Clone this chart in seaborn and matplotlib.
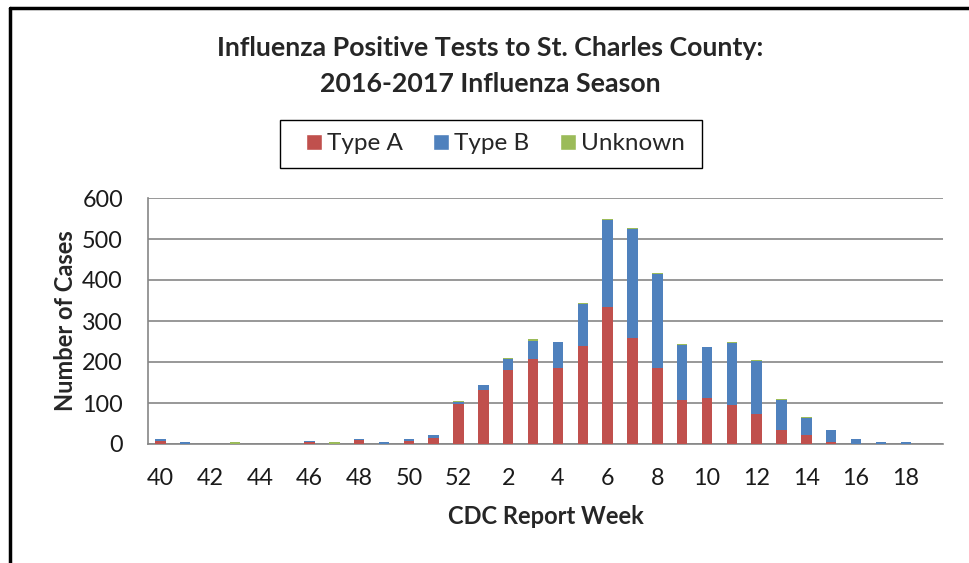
import matplotlib
matplotlib.use("Agg")
import matplotlib.pyplot as plt
import seaborn as sns
import pandas as pd
import numpy as np
from matplotlib.lines import Line2D
from matplotlib.patches import Patch, Rectangle

weeks = ["40", "41", "42", "43", "44", "45", "46", "47", "48", "49", "50", "51", "52",
         "1", "2", "3", "4", "5", "6", "7", "8", "9", "10", "11", "12", "13", "14",
         "15", "16", "17", "18", "19"]
type_a = [7, 0, 0, 0, 0, 0, 5, 0, 10, 0, 7, 15, 98,
          132, 180, 207, 185, 239, 333, 259, 185, 108, 111, 95, 73, 33, 23,
          4, 0, 0, 0, 0]
type_b = [4, 4, 0, 0, 0, 0, 3, 0, 3, 4, 4, 7, 5,
          13, 27, 45, 63, 103, 213, 266, 230, 134, 125, 151, 129, 75, 41,
          31, 13, 4, 4, 0]
unknown = [0, 0, 0, 4, 0, 0, 0, 4, 0, 0, 0, 0, 1,
           0, 3, 3, 2, 3, 3, 3, 3, 2, 0, 3, 3, 2, 2,
           0, 0, 0, 0, 0]
tick_labels = ["40", "42", "44", "46", "48", "50", "52", "2", "4", "6", "8", "10",
               "12", "14", "16", "18"]

RED = "#C0504D"
BLUE = "#4F81BD"
GREEN = "#9BBB59"
GRID = "#868686"

df = pd.DataFrame({"week": weeks, "A": type_a, "B": type_b, "U": unknown})
df["AB"] = df["A"] + df["B"]
df["ABU"] = df["AB"] + df["U"]

sns.set_style("white")
plt.rcParams["font.family"] = ["Lato", "DejaVu Sans"]

W, H = 969, 563
fig = plt.figure(figsize=(W / 100, H / 100), dpi=100)
ax = fig.add_axes([148 / W, 1 - 444 / H, 795 / W, 246 / H])

bw = 0.42
sns.barplot(data=df, x="week", y="ABU", order=weeks, color=GREEN, width=bw,
            saturation=1, linewidth=0, ax=ax, zorder=3)
sns.barplot(data=df, x="week", y="AB", order=weeks, color=BLUE, width=bw,
            saturation=1, linewidth=0, ax=ax, zorder=3)
sns.barplot(data=df, x="week", y="A", order=weeks, color=RED, width=bw,
            saturation=1, linewidth=0, ax=ax, zorder=3)

ax.set_xlim(-0.5, len(weeks) - 0.5)
ax.set_ylim(0, 600)
ax.set_yticks(np.arange(0, 601, 100))
ax.yaxis.grid(True, color=GRID, linewidth=1.2, zorder=0)
ax.set_axisbelow(True)

label_pos = [weeks.index(t) for t in tick_labels]
ax.set_xticks(label_pos)
ax.set_xticklabels(tick_labels)
ax.set_xticks(np.arange(-0.5, len(weeks), 1.0), minor=True)
ax.tick_params(axis="x", which="major", length=0, pad=17, labelsize=16.8, colors="#1a1a1a")
ax.tick_params(axis="x", which="minor", length=7, width=1.2, color=GRID, direction="out")
ax.tick_params(axis="y", which="major", length=7, width=1.2, color=GRID, direction="out",
               labelsize=16.8, labelcolor="#1a1a1a", pad=11)

for s in ["top", "right"]:
    ax.spines[s].set_visible(False)
for s in ["left", "bottom"]:
    ax.spines[s].set_color(GRID)
    ax.spines[s].set_linewidth(1.2)

ax.set_xlabel("CDC Report Week", fontsize=17, fontweight="bold", labelpad=12)
ax.set_ylabel("Number of Cases", fontsize=17, fontweight="bold", labelpad=4)

fig.text(490 / W, 1 - 48 / H, "Influenza Positive Tests to St. Charles County:",
         ha="center", va="center", fontsize=19.3, fontweight="bold")
fig.text(490 / W, 1 - 84 / H, "2016-2017 Influenza Season",
         ha="center", va="center", fontsize=19.3, fontweight="bold")

handles = [Patch(facecolor=RED, label="Type A"),
           Patch(facecolor=BLUE, label="Type B"),
           Patch(facecolor=GREEN, label="Unknown")]
leg = fig.legend(handles=handles, loc="center left", bbox_to_anchor=(306 / W, 1 - 144 / H),
                 ncol=3, frameon=False, fontsize=17.5,
                 handlelength=0.66, handleheight=0.66, handletextpad=0.2, columnspacing=1.25,
                 borderpad=0, borderaxespad=0)
fig.add_artist(Rectangle((280 / W, 1 - 168 / H), 422 / W, 48 / H, transform=fig.transFigure,
                         facecolor="none", edgecolor="black", linewidth=1.0))

fig.add_artist(Line2D([10 / W, 10 / W], [0, 1 - 8 / H], color="black", linewidth=2.5,
                      transform=fig.transFigure))
fig.add_artist(Line2D([10 / W, 1], [1 - 8 / H, 1 - 8 / H], color="black", linewidth=2.5,
                      transform=fig.transFigure))

fig.savefig("out.png", dpi=100)
